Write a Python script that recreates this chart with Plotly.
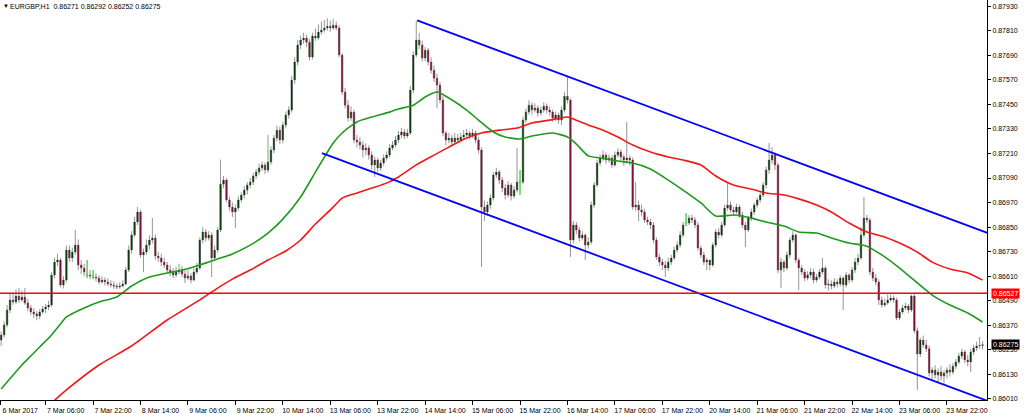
import plotly.graph_objects as go

# ---------------- data (EURGBP H1) ----------------
opens = [
0.86298,0.86323,0.86372,0.86445,0.86494,0.86484,0.86513,0.86494,0.86508,0.86479,
0.86455,0.86435,0.86425,0.86415,0.86435,0.86450,0.86460,0.86469,0.86616,0.86679,
0.86689,0.86567,0.86591,0.86738,0.86699,0.86728,0.86762,0.86665,0.86650,0.86616,
0.86616,0.86606,0.86606,0.86601,0.86582,0.86591,0.86582,0.86572,0.86567,0.86562,
0.86557,0.86562,0.86572,0.86640,0.86738,0.86811,0.86875,0.86924,0.86714,0.86728,
0.86762,0.86787,0.86797,0.86709,0.86699,0.86679,0.86665,0.86640,0.86630,0.86616,
0.86630,0.86640,0.86621,0.86601,0.86611,0.86591,0.86630,0.86650,0.86787,0.86826,
0.86797,0.86811,0.86699,0.86738,0.86836,0.87060,0.87080,0.86983,0.86948,0.86924,
0.86943,0.86983,0.87007,0.87031,0.87056,0.87070,0.87100,0.87119,0.87139,0.87154,
0.87129,0.87168,0.87227,0.87285,0.87324,0.87276,0.87349,0.87398,0.87422,0.87569,
0.87657,0.87740,0.87764,0.87774,0.87754,0.87681,0.87784,0.87774,0.87803,0.87813,
0.87823,0.87832,0.87823,0.87837,0.87823,0.87691,0.87510,0.87446,0.87383,0.87412,
0.87276,0.87266,0.87251,0.87227,0.87237,0.87202,0.87154,0.87178,0.87139,0.87163,
0.87188,0.87202,0.87237,0.87251,0.87276,0.87300,0.87315,0.87295,0.87310,0.87520,
0.87691,0.87764,0.87740,0.87676,0.87715,0.87657,0.87617,0.87578,0.87544,0.87471,
0.87310,0.87276,0.87285,0.87266,0.87285,0.87276,0.87290,0.87300,0.87310,0.87295,
0.87310,0.87276,0.87227,0.86948,0.86924,0.86958,0.86992,0.87105,0.87119,0.87080,
0.87041,0.87007,0.87056,0.87002,0.87031,0.87070,0.87070,0.87373,0.87412,0.87446,
0.87422,0.87432,0.87408,0.87422,0.87441,0.87422,0.87412,0.87383,0.87398,0.87373,
0.87422,0.87490,0.87471,0.86787,0.86860,0.86836,0.86797,0.86811,0.86762,0.86777,
0.86958,0.87056,0.87163,0.87188,0.87202,0.87178,0.87188,0.87154,0.87202,0.87217,
0.87193,0.87178,0.87188,0.87178,0.86948,0.86958,0.86934,0.86924,0.86885,0.86875,
0.86860,0.86787,0.86704,0.86679,0.86665,0.86650,0.86679,0.86699,0.86738,0.86762,
0.86811,0.86870,0.86870,0.86894,0.86885,0.86860,0.86748,0.86714,0.86679,0.86689,
0.86665,0.86762,0.86826,0.86811,0.86860,0.86943,0.86958,0.86934,0.86924,0.86948,
0.86909,0.86860,0.86836,0.86894,0.86924,0.86958,0.86983,0.87007,0.87056,0.87129,
0.87178,0.87202,0.87154,0.86640,0.86679,0.86650,0.86714,0.86787,0.86811,0.86689,
0.86650,0.86630,0.86601,0.86616,0.86630,0.86591,0.86606,0.86630,0.86650,0.86567,
0.86572,0.86562,0.86582,0.86572,0.86601,0.86567,0.86616,0.86591,0.86640,0.86679,
0.86699,0.86811,0.86894,0.86885,0.86630,0.86601,0.86582,0.86494,0.86469,0.86479,
0.86494,0.86503,0.86494,0.86406,0.86435,0.86455,0.86464,0.86445,0.86513,0.86343,
0.86230,0.86298,0.86274,0.86255,0.86137,0.86152,0.86127,0.86142,0.86122,0.86137,
0.86152,0.86142,0.86170,0.86191,0.86220,0.86240,0.86201,0.86191,0.86240,0.86259,
0.86269,0.86271]

highs = [
0.86340,0.86390,0.86470,0.86525,0.86530,0.86545,0.86552,0.86540,0.86552,0.86500,
0.86470,0.86455,0.86440,0.86450,0.86465,0.86475,0.86490,0.86630,0.86700,0.86720,
0.86700,0.86610,0.86760,0.86760,0.86750,0.86836,0.86790,0.86690,0.86670,0.86689,
0.86640,0.86640,0.86625,0.86615,0.86610,0.86605,0.86600,0.86590,0.86585,0.86575,
0.86580,0.86590,0.86655,0.86760,0.86830,0.86900,0.86948,0.86935,0.86745,0.86790,
0.86810,0.86894,0.86815,0.86730,0.86720,0.86700,0.86680,0.86665,0.86650,0.86655,
0.86670,0.86660,0.86640,0.86640,0.86625,0.86650,0.86675,0.86800,0.86850,0.86840,
0.86830,0.86825,0.86760,0.86850,0.87180,0.87100,0.87090,0.87000,0.86970,0.86960,
0.87000,0.87020,0.87050,0.87070,0.87090,0.87115,0.87135,0.87160,0.87170,0.87165,
0.87300,0.87245,0.87300,0.87345,0.87340,0.87365,0.87415,0.87440,0.87590,0.87680,
0.87765,0.87785,0.87800,0.87790,0.87770,0.87800,0.87820,0.87840,0.87855,0.87862,
0.87870,0.87860,0.87868,0.87855,0.87835,0.87700,0.87530,0.87470,0.87440,0.87425,
0.87300,0.87290,0.87270,0.87260,0.87250,0.87220,0.87195,0.87190,0.87180,0.87205,
0.87220,0.87255,0.87270,0.87295,0.87320,0.87335,0.87330,0.87330,0.87540,0.87710,
0.87857,0.87800,0.87760,0.87730,0.87725,0.87680,0.87640,0.87600,0.87560,0.87490,
0.87320,0.87310,0.87300,0.87310,0.87305,0.87310,0.87325,0.87330,0.87320,0.87330,
0.87320,0.87290,0.87240,0.86980,0.86975,0.87010,0.87120,0.87140,0.87130,0.87095,
0.87060,0.87075,0.87065,0.87050,0.87236,0.87129,0.87390,0.87430,0.87470,0.87460,
0.87455,0.87445,0.87440,0.87460,0.87455,0.87440,0.87425,0.87415,0.87410,0.87440,
0.87510,0.87583,0.87480,0.86880,0.86875,0.86850,0.86830,0.86820,0.86800,0.86975,
0.87070,0.87180,0.87205,0.87225,0.87215,0.87205,0.87200,0.87220,0.87235,0.87230,
0.87205,0.87364,0.87200,0.87190,0.87070,0.86980,0.86960,0.86940,0.86900,0.86890,
0.86875,0.86800,0.86720,0.86695,0.86685,0.86700,0.86715,0.86755,0.86780,0.86830,
0.86875,0.86918,0.86910,0.86910,0.86900,0.86875,0.86760,0.86730,0.86700,0.86690,
0.86775,0.86840,0.86845,0.86875,0.86960,0.87070,0.86975,0.86950,0.86965,0.86960,
0.86925,0.86875,0.86905,0.86940,0.86970,0.86995,0.87020,0.87070,0.87145,0.87261,
0.87240,0.87215,0.87165,0.86700,0.86690,0.86730,0.86800,0.86830,0.86820,0.86700,
0.86665,0.86645,0.86635,0.86650,0.86645,0.86620,0.86645,0.86700,0.86660,0.86595,
0.86590,0.86600,0.86595,0.86615,0.86610,0.86630,0.86625,0.86655,0.86700,0.86720,
0.86850,0.86997,0.86910,0.86895,0.86650,0.86620,0.86595,0.86510,0.86500,0.86520,
0.86520,0.86515,0.86505,0.86450,0.86470,0.86480,0.86475,0.86520,0.86530,0.86360,
0.86310,0.86320,0.86300,0.86270,0.86165,0.86175,0.86160,0.86170,0.86150,0.86165,
0.86180,0.86185,0.86205,0.86235,0.86255,0.86250,0.86225,0.86255,0.86275,0.86290,
0.86313,0.86292]

lows = [
0.86269,0.86310,0.86360,0.86430,0.86470,0.86475,0.86480,0.86485,0.86470,0.86440,
0.86420,0.86405,0.86395,0.86400,0.86425,0.86430,0.86445,0.86460,0.86600,0.86660,
0.86555,0.86550,0.86580,0.86680,0.86680,0.86715,0.86640,0.86620,0.86610,0.86601,
0.86595,0.86596,0.86585,0.86570,0.86575,0.86565,0.86560,0.86555,0.86548,0.86545,
0.86548,0.86555,0.86565,0.86630,0.86720,0.86800,0.86860,0.86700,0.86630,0.86715,
0.86740,0.86770,0.86690,0.86680,0.86660,0.86650,0.86625,0.86610,0.86600,0.86605,
0.86620,0.86605,0.86577,0.86590,0.86575,0.86585,0.86620,0.86640,0.86770,0.86780,
0.86785,0.86606,0.86690,0.86725,0.86825,0.87040,0.86970,0.86930,0.86900,0.86846,
0.86930,0.86970,0.86990,0.87010,0.87040,0.87055,0.87085,0.87105,0.87125,0.87110,
0.87115,0.87155,0.87210,0.87270,0.87255,0.87260,0.87335,0.87380,0.87410,0.87550,
0.87640,0.87720,0.87745,0.87730,0.87665,0.87670,0.87760,0.87765,0.87790,0.87800,
0.87810,0.87805,0.87815,0.87810,0.87680,0.87495,0.87430,0.87365,0.87370,0.87260,
0.87240,0.87230,0.87190,0.87200,0.87180,0.87130,0.87095,0.87120,0.87125,0.87150,
0.87175,0.87190,0.87225,0.87240,0.87260,0.87285,0.87280,0.87285,0.87300,0.87505,
0.87680,0.87720,0.87660,0.87660,0.87640,0.87600,0.87560,0.87430,0.87455,0.87295,
0.87250,0.87260,0.87245,0.87255,0.87260,0.87265,0.87280,0.87290,0.87280,0.87285,
0.87260,0.87210,0.86655,0.86880,0.86905,0.86940,0.86980,0.87090,0.87060,0.87020,
0.86985,0.86995,0.86980,0.86990,0.87020,0.87007,0.87060,0.87360,0.87400,0.87400,
0.87410,0.87390,0.87395,0.87410,0.87405,0.87395,0.87365,0.87370,0.87355,0.87349,
0.87410,0.87455,0.86704,0.86770,0.86815,0.86780,0.86785,0.86689,0.86745,0.86765,
0.86945,0.87045,0.87150,0.87175,0.87160,0.87165,0.87140,0.87145,0.87190,0.87175,
0.87150,0.87160,0.87150,0.86935,0.86930,0.86880,0.86905,0.86870,0.86860,0.86840,
0.86770,0.86690,0.86660,0.86640,0.86606,0.86635,0.86665,0.86690,0.86725,0.86750,
0.86800,0.86855,0.86860,0.86870,0.86845,0.86735,0.86700,0.86665,0.86640,0.86640,
0.86655,0.86750,0.86795,0.86800,0.86850,0.86930,0.86920,0.86905,0.86915,0.86895,
0.86845,0.86752,0.86825,0.86880,0.86910,0.86945,0.86970,0.86995,0.87040,0.87110,
0.87160,0.87130,0.86625,0.86552,0.86630,0.86640,0.86700,0.86775,0.86675,0.86543,
0.86615,0.86585,0.86590,0.86600,0.86575,0.86580,0.86595,0.86620,0.86550,0.86540,
0.86545,0.86550,0.86555,0.86560,0.86445,0.86555,0.86575,0.86580,0.86625,0.86665,
0.86690,0.86800,0.86870,0.86615,0.86585,0.86565,0.86469,0.86455,0.86460,0.86470,
0.86485,0.86480,0.86395,0.86395,0.86425,0.86445,0.86430,0.86435,0.86330,0.86054,
0.86215,0.86260,0.86240,0.86120,0.86098,0.86110,0.86088,0.86100,0.86085,0.86110,
0.86120,0.86130,0.86155,0.86180,0.86205,0.86185,0.86170,0.86142,0.86225,0.86245,
0.86255,0.86252]

closes = [
0.86323,0.86372,0.86445,0.86494,0.86484,0.86513,0.86494,0.86508,0.86479,0.86455,
0.86435,0.86425,0.86415,0.86435,0.86450,0.86460,0.86469,0.86616,0.86679,0.86689,
0.86567,0.86591,0.86738,0.86699,0.86728,0.86762,0.86665,0.86650,0.86630,0.86616,
0.86611,0.86606,0.86601,0.86582,0.86591,0.86582,0.86572,0.86567,0.86562,0.86557,
0.86562,0.86572,0.86640,0.86738,0.86811,0.86875,0.86924,0.86714,0.86728,0.86762,
0.86787,0.86797,0.86709,0.86699,0.86679,0.86665,0.86640,0.86630,0.86616,0.86630,
0.86640,0.86621,0.86601,0.86611,0.86591,0.86630,0.86650,0.86787,0.86826,0.86797,
0.86811,0.86699,0.86738,0.86836,0.87060,0.87080,0.86983,0.86948,0.86924,0.86943,
0.86983,0.87007,0.87031,0.87056,0.87070,0.87100,0.87119,0.87139,0.87154,0.87129,
0.87168,0.87227,0.87285,0.87324,0.87276,0.87349,0.87398,0.87422,0.87569,0.87657,
0.87740,0.87764,0.87774,0.87754,0.87681,0.87784,0.87774,0.87803,0.87813,0.87823,
0.87832,0.87823,0.87837,0.87823,0.87691,0.87510,0.87446,0.87383,0.87412,0.87276,
0.87266,0.87251,0.87227,0.87237,0.87202,0.87154,0.87178,0.87139,0.87163,0.87188,
0.87202,0.87237,0.87251,0.87276,0.87300,0.87315,0.87295,0.87310,0.87520,0.87691,
0.87764,0.87740,0.87676,0.87715,0.87657,0.87617,0.87578,0.87544,0.87471,0.87310,
0.87276,0.87285,0.87266,0.87285,0.87276,0.87290,0.87300,0.87310,0.87295,0.87310,
0.87276,0.87227,0.86948,0.86924,0.86958,0.86992,0.87105,0.87119,0.87080,0.87041,
0.87007,0.87056,0.87002,0.87031,0.87070,0.87070,0.87373,0.87412,0.87446,0.87422,
0.87432,0.87408,0.87422,0.87441,0.87422,0.87412,0.87383,0.87398,0.87373,0.87422,
0.87490,0.87471,0.86787,0.86860,0.86836,0.86797,0.86811,0.86762,0.86777,0.86958,
0.87056,0.87163,0.87188,0.87202,0.87178,0.87188,0.87154,0.87202,0.87217,0.87193,
0.87178,0.87188,0.87178,0.86948,0.86958,0.86934,0.86924,0.86885,0.86875,0.86860,
0.86787,0.86704,0.86679,0.86665,0.86650,0.86679,0.86699,0.86738,0.86762,0.86811,
0.86860,0.86870,0.86894,0.86885,0.86860,0.86748,0.86714,0.86679,0.86689,0.86665,
0.86762,0.86826,0.86811,0.86860,0.86943,0.86958,0.86934,0.86924,0.86948,0.86909,
0.86860,0.86836,0.86894,0.86924,0.86958,0.86983,0.87007,0.87056,0.87129,0.87178,
0.87202,0.87154,0.86640,0.86679,0.86650,0.86714,0.86787,0.86811,0.86689,0.86650,
0.86630,0.86601,0.86616,0.86630,0.86591,0.86606,0.86630,0.86650,0.86567,0.86572,
0.86562,0.86582,0.86572,0.86601,0.86567,0.86616,0.86591,0.86640,0.86679,0.86699,
0.86811,0.86894,0.86885,0.86630,0.86601,0.86582,0.86494,0.86469,0.86479,0.86494,
0.86503,0.86494,0.86406,0.86435,0.86455,0.86464,0.86445,0.86513,0.86343,0.86230,
0.86298,0.86274,0.86255,0.86137,0.86152,0.86127,0.86142,0.86122,0.86137,0.86152,
0.86142,0.86170,0.86191,0.86220,0.86240,0.86201,0.86191,0.86240,0.86259,0.86269,
0.86271,0.86275]

doji_bars = [29, 31, 175, 231]

# moving averages (green = fast, red = slow), sampled at bar positions
ma_fast_idx = [0, 7, 10, 13, 17, 20, 22, 28, 33, 39, 44, 50, 56, 61, 67, 73, 78, 84, 90, 95,
               101, 106, 112, 115, 120, 125, 131, 134, 139, 143, 147, 151, 157, 161, 166, 170,
               175, 179, 186, 191, 194, 198, 202, 208, 213, 219, 225, 230, 236, 241, 247, 253,
               258, 264, 269, 275, 280, 286, 292, 297, 303, 309, 314, 320, 326, 331]
ma_fast_val = [0.86059, 0.86176, 0.86220, 0.86264, 0.86323, 0.86376, 0.86411, 0.86455, 0.86484,
               0.86508, 0.86562, 0.86606, 0.86626, 0.86640, 0.86665, 0.86694, 0.86719, 0.86762,
               0.86821, 0.86889, 0.86997, 0.87119, 0.87261, 0.87310, 0.87364, 0.87388, 0.87412,
               0.87427, 0.87446, 0.87486, 0.87510, 0.87481, 0.87422, 0.87373, 0.87315, 0.87290,
               0.87281, 0.87295, 0.87310, 0.87290, 0.87256, 0.87198, 0.87188, 0.87173, 0.87163,
               0.87134, 0.87080, 0.87031, 0.86968, 0.86904, 0.86909, 0.86894, 0.86875, 0.86855,
               0.86826, 0.86821, 0.86797, 0.86772, 0.86757, 0.86714, 0.86650, 0.86577, 0.86518,
               0.86469, 0.86430, 0.86386]

ma_slow_idx = [17, 22, 33, 44, 56, 67, 73, 78, 84, 90, 96, 101, 106, 112, 115, 120, 125, 130,
               134, 140, 146, 151, 157, 162, 168, 174, 179, 185, 191, 193, 198, 202, 208, 213,
               219, 225, 230, 236, 241, 247, 253, 258, 264, 269, 275, 280, 286, 292, 297, 303,
               309, 314, 320, 326, 331]
ma_slow_val = [0.85990, 0.86054, 0.86176, 0.86269, 0.86396, 0.86494, 0.86552, 0.86596, 0.86640,
               0.86689, 0.86733, 0.86787, 0.86865, 0.86948, 0.86992, 0.87017, 0.87041, 0.87065,
               0.87095, 0.87154, 0.87202, 0.87241, 0.87285, 0.87310, 0.87324, 0.87334, 0.87359,
               0.87373, 0.87388, 0.87378, 0.87349, 0.87329, 0.87290, 0.87251, 0.87217, 0.87193,
               0.87178, 0.87154, 0.87100, 0.87056, 0.87036, 0.87017, 0.87007, 0.86988, 0.86958,
               0.86924, 0.86870, 0.86826, 0.86806, 0.86772, 0.86728, 0.86679, 0.86645, 0.86626,
               0.86591]

# drawn channel lines and horizontal level
channel_upper_idx = [140.3, 332.6]
channel_upper_val = [0.87860, 0.86822]
channel_lower_idx = [108.2, 332.6]
channel_lower_val = [0.87212, 0.86001]
level_price = 0.86527
last_price = 0.86275

tick_idx = [-0.3, 15, 31, 47, 63, 79, 95, 111, 127, 143, 159, 175, 191, 207, 223, 239,
            255, 271, 287, 303, 319]
tick_text = ["6 Mar 2017", "7 Mar 06:00", "7 Mar 22:00", "8 Mar 14:00", "9 Mar 06:00",
             "9 Mar 22:00", "10 Mar 14:00", "13 Mar 06:00", "13 Mar 22:00", "14 Mar 14:00",
             "15 Mar 06:00", "15 Mar 22:00", "16 Mar 14:00", "17 Mar 06:00", "17 Mar 22:00",
             "20 Mar 14:00", "21 Mar 06:00", "21 Mar 22:00", "22 Mar 14:00", "23 Mar 06:00",
             "23 Mar 22:00"]
price_ticks = [0.86010, 0.86130, 0.86250, 0.86370, 0.86490, 0.86610, 0.86730, 0.86850,
               0.86970, 0.87090, 0.87210, 0.87330, 0.87450, 0.87570, 0.87690, 0.87810, 0.87930]

title_text = "EURGBP,H1\u00a0\u00a00.86271 0.86292 0.86252 0.86275"

# ---------------- styles ----------------
FONT = "Liberation Sans, Arial, sans-serif"
WICK = "#959595"
BULL = "#0b3a0b"
BEAR = "#7d1232"
DOJI = "#3ee63e"

x = list(range(len(closes)))
body_idx = [i for i in x if i not in doji_bars]

fig = go.Figure()

# wicks (full OHLC in grey)
fig.add_trace(go.Candlestick(
    x=x, open=opens, high=highs, low=lows, close=closes,
    increasing=dict(line=dict(color=WICK, width=1), fillcolor=WICK),
    decreasing=dict(line=dict(color=WICK, width=1), fillcolor=WICK),
    hoverinfo="skip", showlegend=False))

# coloured bodies
fig.add_trace(go.Candlestick(
    x=body_idx,
    open=[opens[i] for i in body_idx],
    close=[closes[i] for i in body_idx],
    high=[max(opens[i], closes[i]) for i in body_idx],
    low=[min(opens[i], closes[i]) for i in body_idx],
    increasing=dict(line=dict(color=BULL, width=0), fillcolor=BULL),
    decreasing=dict(line=dict(color=BEAR, width=0), fillcolor=BEAR),
    hoverinfo="skip", showlegend=False))

# doji bars
fig.add_trace(go.Candlestick(
    x=doji_bars,
    open=[opens[i] for i in doji_bars], high=[highs[i] for i in doji_bars],
    low=[lows[i] for i in doji_bars], close=[closes[i] for i in doji_bars],
    increasing=dict(line=dict(color=DOJI, width=1), fillcolor=DOJI),
    decreasing=dict(line=dict(color=DOJI, width=1), fillcolor=DOJI),
    hoverinfo="skip", showlegend=False))

fig.add_trace(go.Scatter(x=ma_slow_idx, y=ma_slow_val, mode="lines",
                         line=dict(color="#f01818", width=1.6, shape="spline", smoothing=0.6),
                         hoverinfo="skip", showlegend=False))
fig.add_trace(go.Scatter(x=ma_fast_idx, y=ma_fast_val, mode="lines",
                         line=dict(color="#1e9a1e", width=1.6, shape="spline", smoothing=0.6),
                         hoverinfo="skip", showlegend=False))
fig.add_trace(go.Scatter(x=channel_upper_idx, y=channel_upper_val, mode="lines",
                         line=dict(color="#0000ff", width=1.8), hoverinfo="skip", showlegend=False))
fig.add_trace(go.Scatter(x=channel_lower_idx, y=channel_lower_val, mode="lines",
                         line=dict(color="#0000ff", width=1.8), hoverinfo="skip", showlegend=False))

fig.add_shape(type="line", xref="paper", x0=0, x1=1, yref="y", y0=level_price, y1=level_price,
              line=dict(color="#ff0000", width=1.6))

# price boxes on the axis
fig.add_annotation(xref="paper", x=1, xshift=4, xanchor="left", yref="y", y=level_price,
                   text=f"{level_price:.5f}", showarrow=False, bgcolor="#ff0000",
                   font=dict(family=FONT, size=7, color="white"), borderpad=1)
fig.add_annotation(xref="paper", x=1, xshift=4, xanchor="left", yref="y", y=last_price,
                   text=f"{last_price:.5f}", showarrow=False, bgcolor="#000000",
                   font=dict(family=FONT, size=7, color="white"), borderpad=1)

# chart caption
fig.add_annotation(xref="paper", yref="paper", x=0, y=1, xshift=1, yshift=-1,
                   xanchor="left", yanchor="top", text="\u25bc", showarrow=False,
                   font=dict(family=FONT, size=6, color="black"))
fig.add_annotation(xref="paper", yref="paper", x=0, y=1, xshift=8, yshift=-1,
                   xanchor="left", yanchor="top", text=title_text, showarrow=False,
                   font=dict(family=FONT, size=7, color="black"))

fig.update_layout(
    width=1024, height=413,
    margin=dict(l=0, r=37, t=0, b=13),
    paper_bgcolor="white", plot_bgcolor="white",
    showlegend=False, hovermode=False,
    font=dict(family=FONT, size=7, color="black"),
    xaxis=dict(range=[-0.39, 332.5], rangeslider=dict(visible=False),
               tickmode="array", tickvals=tick_idx, ticktext=tick_text,
               ticks="outside", ticklen=4, tickcolor="black", tickwidth=1,
               ticklabelshift=20, ticklabelstandoff=0,
               tickfont=dict(family=FONT, size=7, color="black"),
               showgrid=False, zeroline=False, showline=True, linecolor="black",
               linewidth=1, automargin=False),
    yaxis=dict(range=[0.86005, 0.87960], side="right",
               tickmode="array", tickvals=price_ticks,
               ticktext=[f"{v:.5f}" for v in price_ticks],
               ticks="outside", ticklen=3, tickcolor="black", tickwidth=1,
               tickfont=dict(family=FONT, size=7, color="black"),
               showgrid=False, zeroline=False, showline=True, linecolor="black",
               linewidth=1, automargin=False),
)

fig.write_html("out.html",
               config={"displayModeBar": False, "staticPlot": True},
               post_script="document.body.style.margin='0';document.body.style.overflow='hidden';")
